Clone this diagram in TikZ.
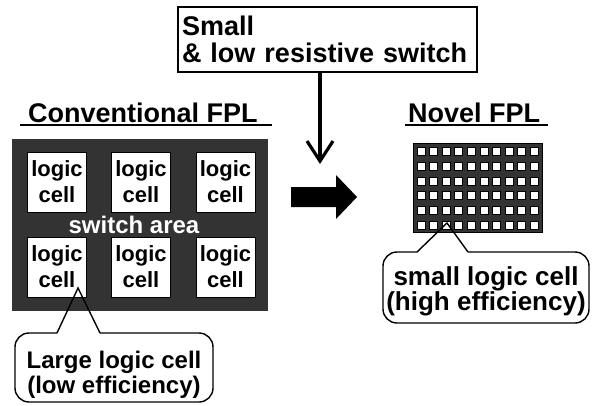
\documentclass[tikz,border=0pt]{standalone}
\usepackage{fontspec}
\setmainfont{Liberation Sans}
\usetikzlibrary{arrows.meta}
\definecolor{darkarea}{HTML}{333333}
\begin{document}
\begin{tikzpicture}[x=1pt,y=-1pt,
  cellbox/.style={draw=black, fill=white, line width=1pt, minimum width=59pt, minimum height=60pt, inner sep=0pt, align=center, font=\bfseries\fontsize{22}{26}\selectfont},
  tinycell/.style={draw=black, fill=white, line width=1pt, minimum width=8pt, minimum height=8pt, inner sep=0pt},
  titletext/.style={anchor=base west, inner sep=0pt, font=\bfseries\fontsize{27}{27}\selectfont},
  bubbletext/.style={align=center, inner sep=0pt},
  bubble/.style={draw=black, line width=1.4pt},
  uline/.style={line width=2pt}]
\useasboundingbox (0,0) rectangle (596,405);

% top box
\node[draw=black, line width=1.5pt, minimum width=299pt, minimum height=65pt, inner sep=4pt, text width=291pt, align=left,
  font=\bfseries\fontsize{27}{27}\selectfont] (top) at (327.5,39.5) {Small\\\& low resistive switch};
\coordinate (arrowend) at (320,164);
\draw[line width=3.2pt, -{Straight Barb[length=20pt,width=26pt]}] (top.south -| arrowend) -- (arrowend);

% titles
\node[titletext] (convtitle) at (28,122) {Conventional FPL};
\draw[uline] (20,124.5) -- (272,124.5);
\node[titletext] (noveltitle) at (408,122) {Novel FPL};
\draw[uline] (405,124.5) -- (548,124.5);

% conventional FPL
\fill[darkarea] (12,139) rectangle (268,311);
\node[cellbox] (c11) at (57,182) {logic\\cell};
\node[cellbox] (c12) at (141,182) {logic\\cell};
\node[cellbox] (c13) at (225.5,182) {logic\\cell};
\node[cellbox] (c21) at (57,267) {logic\\cell};
\node[cellbox] (c22) at (141,267) {logic\\cell};
\node[cellbox] (c23) at (225.5,267) {logic\\cell};
\node[anchor=base, inner sep=0pt, text=white, font=\bfseries\fontsize{24}{24}\selectfont] (sw) at (134,233) {switch area};

% big arrow
\fill[black] (291,187) -- (336,187) -- (336,175) -- (357,197) -- (336,219) -- (336,207) -- (291,207) -- cycle;

% novel FPL grid
\fill[darkarea] (413,143) rectangle (542,232);
\draw[black, line width=0.8pt] (413,143) rectangle (542,232);
\foreach \i in {0,...,9}{
  \foreach \j in {0,...,5}{
    \node[tinycell] (g\i\j) at ({421+12.6*\i},{151.7+14.7*\j}) {};
  }
}

% left callout
\draw[bubble, rounded corners=14pt] (57,333) -- (15,333) -- (15,402) -- (213,402) -- (213,333) -- (100,333);
\draw[bubble] (57,333) -- (78,288) -- (100,333);
\node[bubbletext, font=\bfseries\fontsize{24}{25}\selectfont, anchor=base] (lefttext) at (114,393) {Large logic cell\\(low efficiency)};

% right callout
\draw[bubble, rounded corners=14pt] (417,252) -- (383,252) -- (383,323) -- (589,323) -- (589,252) -- (468,252);
\draw[bubble] (417,252) -- (447,223) -- (468,252);
\node[bubbletext, font=\bfseries\fontsize{26}{25}\selectfont, anchor=base] (righttext) at (486,310) {small logic cell\\(high efficiency)};
\end{tikzpicture}
\end{document}
